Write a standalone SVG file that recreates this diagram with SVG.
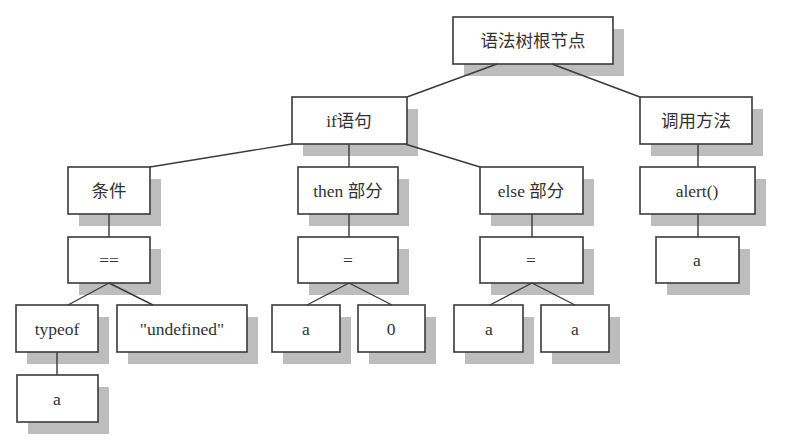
<svg xmlns="http://www.w3.org/2000/svg" width="785" height="439" viewBox="0 0 785 439">
<style>
.sh{fill:#bdbdbd;stroke:none}
.bx{fill:#fff;stroke:#3a3a3a;stroke-width:1.6}
.t{font-family:"Liberation Serif","Noto Sans CJK SC",serif;font-size:17.5px;fill:#333;text-anchor:middle;dominant-baseline:central}
.ln{stroke:#3a3a3a;stroke-width:1.4;fill:none}
</style>
<rect width="785" height="439" fill="#fff"/>
<g id="root"><rect class="sh" x="464" y="29" width="160" height="47"/><rect class="bx" x="453" y="17" width="160" height="47"/><text class="t" x="533" y="41">语法树根节点</text></g>
<g id="if"><rect class="sh" x="303" y="109" width="115" height="47"/><rect class="bx" x="292" y="97" width="115" height="47"/><text class="t" x="349" y="121">if语句</text></g>
<g id="call"><rect class="sh" x="651" y="109" width="112" height="47"/><rect class="bx" x="640" y="97" width="112" height="47"/><text class="t" x="696" y="121">调用方法</text></g>
<g id="cond"><rect class="sh" x="79" y="179" width="82" height="47"/><rect class="bx" x="68" y="167" width="82" height="47"/><text class="t" x="109" y="191">条件</text></g>
<g id="then"><rect class="sh" x="309" y="179" width="100" height="47"/><rect class="bx" x="298" y="167" width="100" height="47"/><text class="t" x="348" y="191">then 部分</text></g>
<g id="else"><rect class="sh" x="491" y="179" width="103" height="47"/><rect class="bx" x="480" y="167" width="103" height="47"/><text class="t" x="531" y="191">else 部分</text></g>
<g id="alert"><rect class="sh" x="651" y="179" width="115" height="47"/><rect class="bx" x="640" y="167" width="115" height="47"/><text class="t" x="697" y="191">alert()</text></g>
<g id="eq"><rect class="sh" x="79" y="249" width="82" height="46"/><rect class="bx" x="68" y="237" width="82" height="46"/><text class="t" x="109" y="260">==</text></g>
<g id="assign1"><rect class="sh" x="309" y="249" width="100" height="46"/><rect class="bx" x="298" y="237" width="100" height="46"/><text class="t" x="348" y="260">=</text></g>
<g id="assign2"><rect class="sh" x="491" y="249" width="103" height="46"/><rect class="bx" x="480" y="237" width="103" height="46"/><text class="t" x="531" y="260">=</text></g>
<g id="alerta"><rect class="sh" x="667" y="249" width="83" height="46"/><rect class="bx" x="656" y="237" width="83" height="46"/><text class="t" x="697" y="260">a</text></g>
<g id="typeof"><rect class="sh" x="27" y="317" width="82" height="47"/><rect class="bx" x="16" y="305" width="82" height="47"/><text class="t" x="57" y="329">typeof</text></g>
<g id="undef"><rect class="sh" x="128" y="317" width="130" height="47"/><rect class="bx" x="117" y="305" width="130" height="47"/><text class="t" x="182" y="329">"undefined"</text></g>
<g id="thena"><rect class="sh" x="283" y="317" width="68" height="47"/><rect class="bx" x="272" y="305" width="68" height="47"/><text class="t" x="306" y="329">a</text></g>
<g id="then0"><rect class="sh" x="369" y="317" width="67" height="47"/><rect class="bx" x="358" y="305" width="67" height="47"/><text class="t" x="391" y="329">0</text></g>
<g id="elsea1"><rect class="sh" x="465" y="317" width="69" height="47"/><rect class="bx" x="454" y="305" width="69" height="47"/><text class="t" x="489" y="329">a</text></g>
<g id="elsea2"><rect class="sh" x="552" y="317" width="68" height="47"/><rect class="bx" x="541" y="305" width="68" height="47"/><text class="t" x="575" y="329">a</text></g>
<g id="typeofa"><rect class="sh" x="28" y="387" width="81" height="47"/><rect class="bx" x="17" y="375" width="81" height="47"/><text class="t" x="57" y="399">a</text></g>
<g id="connectors">
<line class="ln" x1="497" y1="64" x2="407" y2="97"/>
<line class="ln" x1="552" y1="64" x2="640" y2="97"/>
<line class="ln" x1="292" y1="144" x2="150" y2="167"/>
<line class="ln" x1="349" y1="144" x2="349" y2="167"/>
<line class="ln" x1="405" y1="144" x2="480" y2="167"/>
<line class="ln" x1="698" y1="144" x2="698" y2="167"/>
<line class="ln" x1="109" y1="214" x2="109" y2="237"/>
<line class="ln" x1="349" y1="214" x2="349" y2="237"/>
<line class="ln" x1="532" y1="214" x2="532" y2="237"/>
<line class="ln" x1="698" y1="214" x2="698" y2="237"/>
<line class="ln" x1="109" y1="283" x2="68" y2="305"/>
<line class="ln" x1="109" y1="283" x2="153" y2="305"/>
<line class="ln" x1="349" y1="283" x2="307" y2="305"/>
<line class="ln" x1="349" y1="283" x2="392" y2="305"/>
<line class="ln" x1="532" y1="283" x2="490" y2="305"/>
<line class="ln" x1="532" y1="283" x2="575" y2="305"/>
<line class="ln" x1="57" y1="352" x2="57" y2="375"/>
</g>
</svg>
